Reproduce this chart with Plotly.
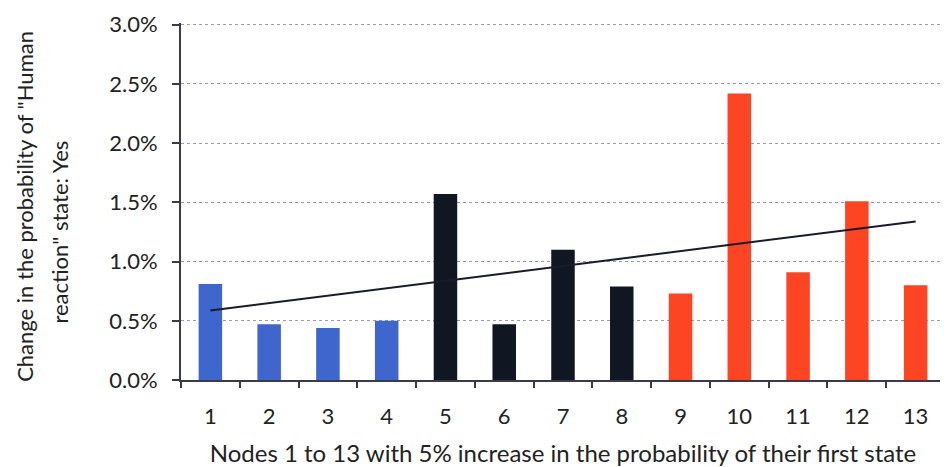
import numpy as np
import plotly.graph_objects as go

nodes = ["1", "2", "3", "4", "5", "6", "7", "8", "9", "10", "11", "12", "13"]
values = [0.81, 0.47, 0.44, 0.50, 1.57, 0.47, 1.10, 0.79, 0.73, 2.42, 0.91, 1.51, 0.80]  # percent
groups = ["A"] * 4 + ["B"] * 4 + ["C"] * 5
group_colors = {"A": "#3f66cc", "B": "#111722", "C": "#fd4523"}
y_ticks = [0.0, 0.5, 1.0, 1.5, 2.0, 2.5, 3.0]
y_tick_labels = ["0.0%", "0.5%", "1.0%", "1.5%", "2.0%", "2.5%", "3.0%"]
y_title_lines = ["Change in the probability of \"Human", "reaction\" state: Yes"]
x_title = "Nodes 1 to 13 with 5% increase in the probability of their first state"

# linear trendline (least squares) over the node index
idx = np.arange(1, len(values) + 1)
slope, intercept = np.polyfit(idx, values, 1)
trend = slope * idx + intercept

fig = go.Figure()
fig.add_trace(go.Bar(
    x=nodes, y=values,
    marker=dict(color=[group_colors[g] for g in groups], line=dict(width=0)),
    showlegend=False,
))
fig.add_trace(go.Scatter(
    x=[nodes[0], nodes[-1]], y=[trend[0], trend[-1]],
    mode="lines", line=dict(color="#1a1a2e", width=2),
    showlegend=False,
))

font_family = "Lato, 'Open Sans', sans-serif"
fig.update_layout(
    width=940, height=459,
    margin=dict(l=173, r=3, t=10, b=86),
    paper_bgcolor="white", plot_bgcolor="white",
    bargap=0.6,
    font=dict(family=font_family, size=22, color="#222222"),
    xaxis=dict(
        type="category",
        tickson="boundaries",
        ticks="outside", ticklen=6, tickcolor="#3a3a4a", tickwidth=1.5,
        showline=True, linecolor="#3a3a4a", linewidth=1.5,
        showgrid=False,
        tickfont=dict(size=22),
        ticklabelstandoff=16,
        title=dict(text=x_title, font=dict(size=24), standoff=18),
        range=[-0.5, 12.5],
    ),
    yaxis=dict(
        range=[0, 3.015],
        tickvals=y_ticks, ticktext=y_tick_labels,
        ticks="outside", ticklen=7, tickcolor="#3a3a4a", tickwidth=1.5,
        showline=True, linecolor="#3a3a4a", linewidth=2,
        showgrid=True, gridcolor="#9a9aa8", griddash="dot", gridwidth=1,
        zeroline=False,
        tickfont=dict(size=22),
        ticklabelstandoff=10,
        ticklabeloverflow="allow",
    ),
    annotations=[
        dict(text=y_title_lines[0], xref="paper", yref="paper", x=0, y=0.485,
             xanchor="center", yanchor="middle", xshift=-156, textangle=-90,
             showarrow=False, font=dict(size=22)),
        dict(text=y_title_lines[1], xref="paper", yref="paper", x=0, y=0.413,
             xanchor="center", yanchor="middle", xshift=-121, textangle=-90,
             showarrow=False, font=dict(size=22)),
    ],
)

fig.write_html("out.html")
